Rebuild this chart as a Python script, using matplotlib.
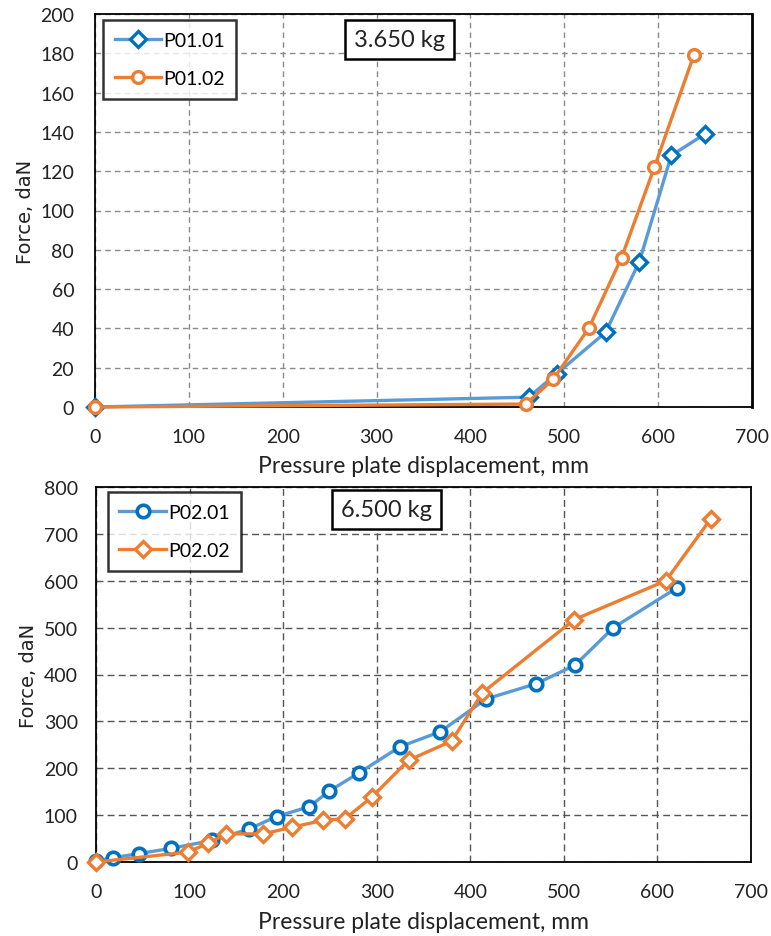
import matplotlib
matplotlib.use("Agg")
import matplotlib.pyplot as plt

# ---- data ----
p0101_x = [0, 462, 492, 544, 580, 614, 650]
p0101_y = [0, 5, 17, 38, 74, 128, 139]
p0102_x = [0, 459, 488, 526, 561, 596, 638]
p0102_y = [0, 1.5, 14, 40, 76, 122, 179]

p0201_x = [0, 18, 46, 80, 124, 163, 193, 228, 249, 281, 325, 368, 417, 470, 512, 553, 621]
p0201_y = [2, 9, 18, 29, 46, 70, 97, 118, 151, 190, 246, 278, 348, 380, 420, 500, 585]
p0202_x = [0, 98, 120, 139, 179, 209, 243, 266, 295, 334, 380, 413, 511, 609, 657]
p0202_y = [0, 21, 40, 60, 60, 74, 89, 92, 139, 217, 258, 361, 517, 600, 732]

x_ticks = [0, 100, 200, 300, 400, 500, 600, 700]
top_yticks = [0, 20, 40, 60, 80, 100, 120, 140, 160, 180, 200]
bot_yticks = [0, 100, 200, 300, 400, 500, 600, 700, 800]

BLUE_LINE = "#5B9BD5"
BLUE_MK = "#0070C0"
ORANGE = "#ED7D31"
TXT = "#222222"

plt.rcParams["font.family"] = ["Lato", "DejaVu Sans"]

fig = plt.figure(figsize=(7.71, 9.37), dpi=100)
ax1 = fig.add_axes([95/771, 1-408/937, (752-95)/771, (408-15)/937])
ax2 = fig.add_axes([96/771, 1-863/937, (751-96)/771, (863-488)/937])


def style(ax, yticks, ymax, ypad, gridcol, dash):
    ax.set_xlim(0, 700)
    ax.set_ylim(0, ymax)
    ax.set_xticks(x_ticks)
    ax.set_yticks(yticks)
    ax.grid(True, color=gridcol, linestyle=(0, dash), linewidth=1.0)
    ax.set_axisbelow(True)
    for s in ax.spines.values():
        s.set_color("black")
        s.set_linewidth(1.3)
    ax.tick_params(axis="both", length=0, labelsize=14, colors=TXT)
    ax.tick_params(axis="x", pad=15)
    ax.tick_params(axis="y", pad=ypad)
    ax.set_ylabel("Force, daN", family="DejaVu Sans", fontsize=14, color=TXT, labelpad=4)
    ax.set_xlabel("Pressure plate displacement, mm", fontsize=16.5, color=TXT)


style(ax1, top_yticks, 200, 15, "#8a8a8a", (4, 3))
style(ax2, bot_yticks, 800, 13, "#555555", (5, 3))
ax1.spines["right"].set_linewidth(2.0)
ax1.xaxis.labelpad = 7
ax2.xaxis.labelpad = 8

ax1.plot(p0101_x, p0101_y, color=BLUE_LINE, lw=2.4, marker="D", ms=8,
         mfc="white", mec=BLUE_MK, mew=2.4, label="P01.01", zorder=3, clip_on=False)
ax1.plot(p0102_x, p0102_y, color=ORANGE, lw=2.4, marker="o", ms=8.5,
         mfc="white", mec=ORANGE, mew=2.4, label="P01.02", zorder=4, clip_on=False)

ax2.plot(p0201_x, p0201_y, color=BLUE_LINE, lw=2.4, marker="o", ms=9,
         mfc="white", mec=BLUE_MK, mew=2.6, label="P02.01", zorder=3, clip_on=False)
ax2.plot(p0202_x, p0202_y, color=ORANGE, lw=2.4, marker="D", ms=8,
         mfc="white", mec=ORANGE, mew=2.4, label="P02.02", zorder=4, clip_on=False)

for ax, loc in ((ax1, (0.012, 0.985)), (ax2, (0.018, 0.987))):
    leg = ax.legend(loc="upper left", bbox_to_anchor=loc, fontsize=14,
                    frameon=True, fancybox=False, edgecolor="black",
                    handlelength=2.4, borderpad=0.6, labelspacing=1.1,
                    handletextpad=0.1, borderaxespad=0)
    leg.get_frame().set_linewidth(1.8)

ax1.text(324, 186.8, "3.650 kg", ha="center", va="center", fontsize=17, color=TXT,
         bbox=dict(boxstyle="square,pad=0.38", fc="white", ec="black", lw=1.8))
ax2.text(310, 751, "6.500 kg", ha="center", va="center", fontsize=17, color=TXT,
         bbox=dict(boxstyle="square,pad=0.38", fc="white", ec="black", lw=1.8))

fig.savefig("out.png", dpi=100)
